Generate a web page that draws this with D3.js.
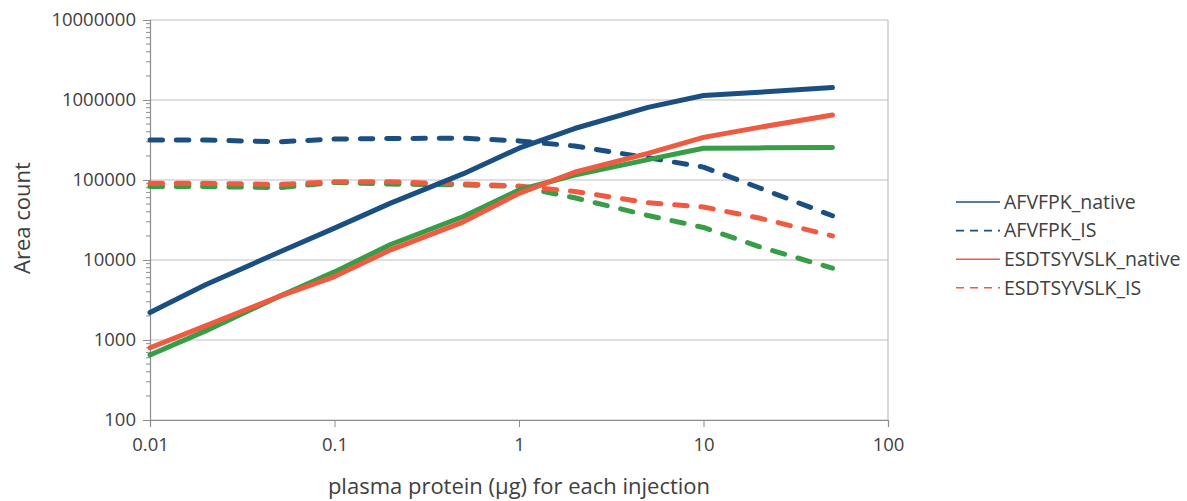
<!DOCTYPE html>
<html>
<head>
<meta charset="utf-8">
<script src="https://cdn.jsdelivr.net/npm/d3@7"></script>
<style>
  body { margin: 0; background: #fff; }
  svg { display: block; font-family: "Open Sans", "Noto Sans", sans-serif; }
</style>
</head>
<body>
<svg id="chart" width="1187" height="501"></svg>
<script>
// protein amounts (x) and area counts per series
const amounts = [0.01, 0.02, 0.05, 0.1, 0.2, 0.5, 1, 2, 5, 10, 20, 50];

const afvfpkNative = [2200, 4900, 12500, 25000, 51000, 120000, 250000, 440000, 810000, 1140000, 1250000, 1430000];
const afvfpkIS = [316000, 316000, 300000, 325000, 330000, 333000, 308000, 266000, 190000, 145000, 80000, 35700];
const esdNative = [800, 1500, 3500, 6200, 13300, 30000, 68000, 125000, 215000, 341000, 455000, 650000];
const esdIS = [91000, 91000, 88000, 95000, 95000, 89000, 84000, 72000, 52000, 46000, 33500, 20000];
const greenNative = [650, 1300, 3500, 7100, 15500, 35000, 75000, 115000, 180000, 249000, 252000, 255000];
const greenIS = [83000, 83000, 80000, 93000, 89000, 87000, 83000, 60000, 36000, 25500, 14700, 7900];

const xTicks = [0.01, 0.1, 1, 10, 100];
const yTicks = [100, 1000, 10000, 100000, 1000000, 10000000];

const seriesNames = ["AFVFPK_native", "AFVFPK_IS", "ESDTSYVSLK_native", "ESDTSYVSLK_IS", "", ""];
const seriesValues = [afvfpkNative, afvfpkIS, esdNative, esdIS, greenNative, greenIS];
const seriesColors = ["#1b4f82", "#1b4f82", "#ef5a41", "#ef5a41", "#389d47", "#389d47"];
const seriesDashed = [false, true, false, true, false, true];
const inLegend = [true, true, true, true, false, false];

const svg = d3.select("#chart");
const margin = { left: 150, right: 299, top: 20, bottom: 81 };
const width = +svg.attr("width");
const height = +svg.attr("height");

const x = d3.scaleLog().domain([0.01, 100]).range([margin.left, width - margin.right]);
const y = d3.scaleLog().domain([100, 10000000]).range([height - margin.bottom, margin.top]);

const textColor = "#404040";
const gridColor = "#c0c0c0";
const axisColor = "#8c8c8c";

// horizontal gridlines
svg.append("g")
  .selectAll("line")
  .data(yTicks)
  .join("line")
  .attr("x1", x(0.01))
  .attr("x2", x(100))
  .attr("y1", (d) => y(d))
  .attr("y2", (d) => y(d))
  .attr("stroke", gridColor)
  .attr("stroke-width", 1.2);

// right frame
svg.append("line")
  .attr("x1", x(100)).attr("x2", x(100))
  .attr("y1", y(10000000)).attr("y2", y(100))
  .attr("stroke", gridColor)
  .attr("stroke-width", 1.2);

// y axis with minor ticks
const minorY = [];
yTicks.slice(0, -1).forEach((t) => {
  for (let k = 2; k <= 9; k++) minorY.push(t * k);
});
const yAxisG = svg.append("g").attr("transform", `translate(${x(0.01)},0)`);
yAxisG.append("g")
  .selectAll("line")
  .data(minorY)
  .join("line")
  .attr("x1", -4).attr("x2", 0)
  .attr("y1", (d) => y(d)).attr("y2", (d) => y(d))
  .attr("stroke", axisColor);
yAxisG.call(
  d3.axisLeft(y).tickValues(yTicks).tickFormat(d3.format("d")).tickSize(7).tickPadding(7)
);
yAxisG.select(".domain").attr("stroke", axisColor).attr("stroke-width", 1.2);
yAxisG.selectAll(".tick line").attr("stroke", axisColor);
yAxisG.selectAll(".tick text")
  .attr("fill", textColor)
  .style("font-size", "18.5px")
  .style("font-family", "'Open Sans', sans-serif");

// x axis
const xAxisG = svg.append("g").attr("transform", `translate(0,${y(100)})`);
xAxisG.call(
  d3.axisBottom(x).tickValues(xTicks).tickFormat((d) => String(d)).tickSize(7).tickPadding(11)
);
xAxisG.select(".domain").attr("stroke", axisColor).attr("stroke-width", 1.2);
xAxisG.selectAll(".tick line").attr("stroke", axisColor);
xAxisG.selectAll(".tick text")
  .attr("fill", textColor)
  .style("font-size", "18.5px")
  .style("font-family", "'Open Sans', sans-serif");

// series lines (green first, then red, then blue on top)
const line = d3.line().x((d) => x(d[0])).y((d) => y(d[1]));
const order = [5, 3, 1, 4, 2, 0];
svg.append("g")
  .selectAll("path")
  .data(order)
  .join("path")
  .attr("d", (i) => line(amounts.map((a, j) => [a, seriesValues[i][j]])))
  .attr("fill", "none")
  .attr("stroke", (i) => seriesColors[i])
  .attr("stroke-width", 5)
  .attr("stroke-linecap", "round")
  .attr("stroke-linejoin", "round")
  .attr("stroke-dasharray", (i) => (seriesDashed[i] ? "12.5,13.8" : null));

// axis titles
svg.append("text")
  .attr("x", (x(0.01) + x(100)) / 2)
  .attr("y", 494)
  .attr("text-anchor", "middle")
  .attr("fill", textColor)
  .style("font-size", "22px")
  .text("plasma protein (\u00b5g) for each injection");

svg.append("text")
  .attr("transform", "translate(30,218) rotate(-90)")
  .attr("text-anchor", "middle")
  .attr("fill", textColor)
  .style("font-size", "22px")
  .text("Area count");

// legend
const legendItems = d3.range(seriesNames.length).filter((i) => inLegend[i]);
const legend = svg.append("g").attr("transform", "translate(956,202)");
const rows = legend.selectAll("g")
  .data(legendItems)
  .join("g")
  .attr("transform", (d, k) => `translate(0,${k * 28.6})`);
rows.append("line")
  .attr("x1", 0).attr("x2", 44)
  .attr("stroke", (i) => seriesColors[i])
  .attr("stroke-width", 1.6)
  .attr("stroke-dasharray", (i) => (seriesDashed[i] ? "8,6" : null));
rows.append("text")
  .attr("x", 48)
  .attr("dy", "0.35em")
  .attr("fill", textColor)
  .style("font-size", "19.5px")
  .text((i) => seriesNames[i]);
</script>
</body>
</html>
